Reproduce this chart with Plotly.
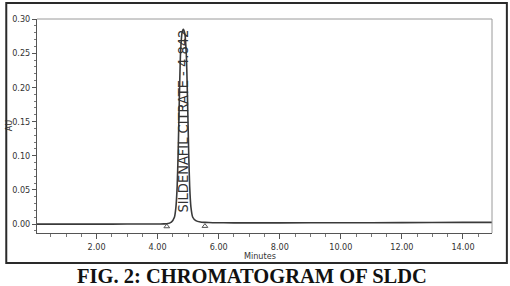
import plotly.graph_objects as go

# Chromatogram trace (time in minutes, absorbance in AU)
time_min = [0.05, 1.0, 2.0, 3.0, 4.0, 4.20, 4.30, 4.45, 4.55, 4.60, 4.64, 4.67, 4.70, 4.72, 4.75,
            4.80, 4.842, 4.89, 4.94, 4.97, 4.99, 5.02, 5.05, 5.09, 5.15, 5.25, 5.40, 5.55, 5.80,
            6.5, 8.0, 10.0, 12.0, 14.0, 14.95]
absorbance = [0.0000, 0.0000, 0.0000, 0.0001, 0.0002, 0.0003, 0.0004, 0.0030, 0.0100, 0.0250,
              0.0550, 0.1000, 0.1600, 0.2000, 0.2500, 0.2800, 0.2850, 0.2790, 0.2480, 0.2000,
              0.1600, 0.1000, 0.0550, 0.0250, 0.0100, 0.0050, 0.0030, 0.0025, 0.0021, 0.0018,
              0.0018, 0.0020, 0.0022, 0.0025, 0.0026]

# Baseline start / end markers
marker_times = [4.30, 5.55]
marker_levels = [-0.0035, -0.0030]

peak_label = "SILDENAFIL CITRATE - 4.842"
peak_time = 4.842
x_ticks = [2, 4, 6, 8, 10, 12, 14]
y_ticks = [0.00, 0.05, 0.10, 0.15, 0.20, 0.25, 0.30]

FONT = "Liberation Sans Narrow, DejaVu Sans Condensed, Arial Narrow, Liberation Sans, Arial"

fig = go.Figure()
fig.add_trace(go.Scatter(x=time_min, y=absorbance, mode="lines",
                         line=dict(color="#3a3a3a", width=1.6, shape="spline", smoothing=0.5),
                         hoverinfo="skip", showlegend=False))
fig.add_trace(go.Scatter(x=marker_times, y=marker_levels, mode="markers",
                         marker=dict(symbol="triangle-up-open", size=5,
                                     color="#555", line=dict(width=1)),
                         hoverinfo="skip", showlegend=False))

L, R, T, B = 33, 492, 19, 233
W, H = 510, 286
pw, ph = R - L, B - T


def px(x):
    return (x - L) / pw


def py(y):
    return (B - y) / ph


fig.update_layout(
    width=W, height=H,
    margin=dict(l=L, r=W - R, t=T, b=H - B, pad=0),
    paper_bgcolor="white", plot_bgcolor="white",
    font=dict(family=FONT, size=9, color="#333"),
    xaxis=dict(range=[0.05, 14.95], tickvals=x_ticks, tickformat=".2f",
               showgrid=False, zeroline=False, showline=True, linecolor="#555", linewidth=1,
               ticks="outside", ticklen=5, tickcolor="#555", tickwidth=1,
               minor=dict(dtick=0.5, ticks="outside", ticklen=3, tickcolor="#777", showgrid=False),
               tickfont=dict(family=FONT, size=9, color="#333"),
               mirror=False),
    yaxis=dict(range=[-0.013, 0.300], tickvals=y_ticks, tickformat=".2f",
               showgrid=False, zeroline=False, showline=True, linecolor="#555", linewidth=1,
               ticks="outside", ticklen=4, tickcolor="#555", tickwidth=1,
               minor=dict(dtick=0.01, ticks="outside", ticklen=2, tickcolor="#777", showgrid=False),
               tickfont=dict(family=FONT, size=9, color="#333")),
    shapes=[
        # inner plot top and right borders
        dict(type="line", xref="paper", yref="paper", x0=0, x1=1, y0=1, y1=1,
             line=dict(color="#9a9a9a", width=1)),
        dict(type="line", xref="paper", yref="paper", x0=1, x1=1, y0=0, y1=1,
             line=dict(color="#9a9a9a", width=1)),
        # outer frame of figure image
        dict(type="rect", xref="paper", yref="paper",
             x0=px(2), x1=px(507), y0=py(263), y1=py(3),
             line=dict(color="#2a2a2a", width=2), fillcolor="rgba(0,0,0,0)"),
    ],
    annotations=[
        dict(x=peak_time, y=0.1505, xref="x", yref="y", text=peak_label, textangle=-90,
             showarrow=False, xanchor="center", yanchor="middle",
             font=dict(family=FONT, size=14.5, color="#333")),
        dict(x=px(258), y=py(256), xref="paper", yref="paper", text="Minutes",
             showarrow=False, xanchor="center", yanchor="middle",
             font=dict(family=FONT, size=9, color="#333")),
        dict(x=px(5), y=py(125), xref="paper", yref="paper", text="AU", textangle=-90,
             showarrow=False, xanchor="center", yanchor="middle",
             font=dict(family=FONT, size=9, color="#333")),
        dict(x=px(250), y=py(276), xref="paper", yref="paper",
             text="<b>FIG. 2: CHROMATOGRAM OF SLDC</b>",
             showarrow=False, xanchor="center", yanchor="middle",
             font=dict(family="Liberation Serif, Times New Roman, serif", size=20.5, color="#111")),
    ],
)

fig.write_html("out.html")
